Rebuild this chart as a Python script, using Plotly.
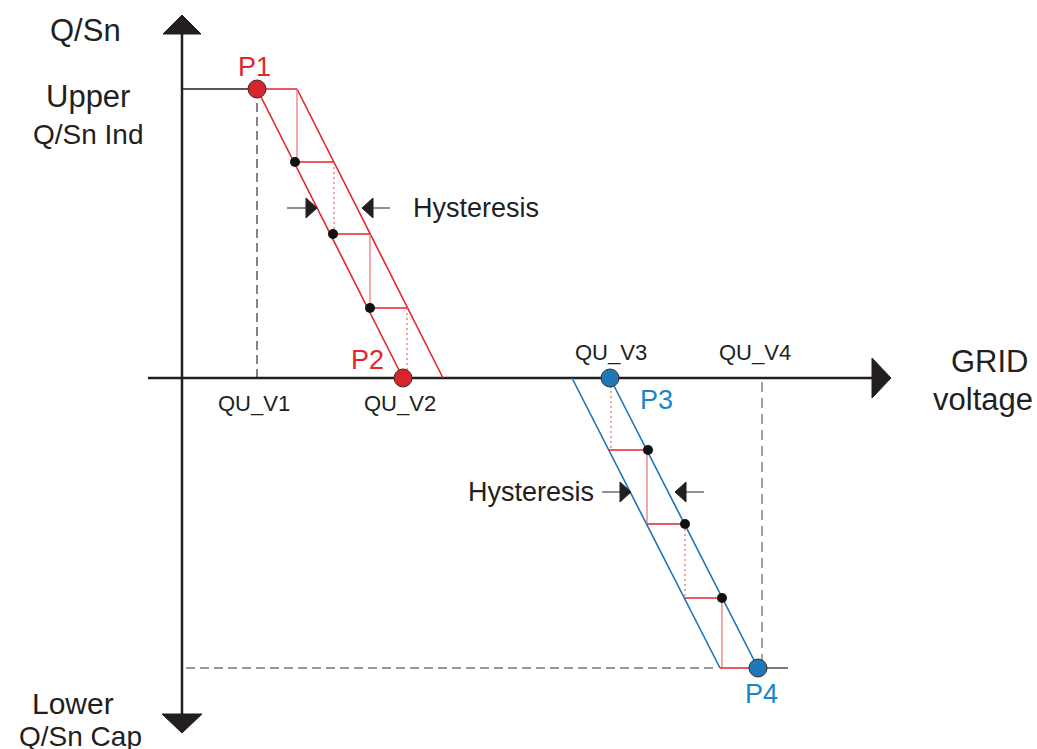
import plotly.graph_objects as go

# logical units: x = grid voltage offset, y = Q/Sn, origin where the two axes cross
qu_v = [75, 221, 428, 576]            # QU_V1 .. QU_V4
qu_names = ["QU_V1", "QU_V2", "QU_V3", "QU_V4"]
q_upper, q_lower = 289, -290          # Upper Q/Sn Ind / Lower Q/Sn Cap
hyst = 40                             # hysteresis width

p_names = ["P1", "P2", "P3", "P4"]
p_v = [75, 221, 428, 576]
p_q = [289, 0, 0, -290]

# intermediate points on the characteristic
dots_v = [113, 151, 188, 466, 503, 540]
dots_q = [216, 144, 70, -72, -146, -220]

# staircase segments (v0, q0, v1, q1)
steps_h = [(113, 216, 152, 216), (151, 144, 188, 144), (188, 70, 225, 70),
           (426, -72, 466, -72), (465, -146, 503, -146), (503, -220, 540, -220),
           (538, -290, 576, -290)]
steps_v_solid = [(115, 289, 115, 216), (188, 144, 188, 70),
                 (465, -72, 465, -146), (540, -220, 540, -290)]
steps_v_dot = [(152, 216, 152, 144), (225, 70, 225, 0),
               (429, -8, 429, -72), (503, -146, 503, -220)]

AX = "#231f20"
RED = "#e3262c"
RED_L = "#ec6f73"
BLUE = "#1b75bc"

fig = go.Figure()


def segs(lst):
    xs, ys = [], []
    for v0, q0, v1, q1 in lst:
        xs += [v0, v1, None]
        ys += [q0, q1, None]
    return xs, ys


def line(xs, ys, color, width, dash=None):
    fig.add_trace(go.Scatter(x=xs, y=ys, mode="lines", hoverinfo="skip",
                             line=dict(color=color, width=width, dash=dash)))


def tri(tx, ty, d, length, half, color):
    # filled arrow head with tip at (tx, ty), pointing in direction d
    if d == "up":
        xs, ys = [tx, tx - half, tx + half], [ty, ty - length, ty - length]
    elif d == "down":
        xs, ys = [tx, tx - half, tx + half], [ty, ty + length, ty + length]
    elif d == "right":
        xs, ys = [tx, tx - length, tx - length], [ty, ty - half, ty + half]
    else:
        xs, ys = [tx, tx + length, tx + length], [ty, ty - half, ty + half]
    fig.add_trace(go.Scatter(x=xs + [xs[0]], y=ys + [ys[0]], mode="lines", fill="toself",
                             fillcolor=color, line=dict(color=color, width=1), hoverinfo="skip"))


# guide lines
line([0, qu_v[0]], [q_upper, q_upper], AX, 1.5)
line([qu_v[0], qu_v[0]], [q_upper, 0], AX, 1.1, "9px,5px")
line([4, qu_v[3] - hyst], [q_lower, q_lower], "#333333", 1.1, "9px,5px")
line([qu_v[3], qu_v[3] + 30], [q_lower, q_lower], AX, 1.2)
line([qu_v[3] + 4, qu_v[3] + 4], [-4, q_lower], "#8a8a8a", 1.6, "10px,6px")

# axes
line([-34, 690], [0, 0], AX, 2.5)
line([0, 0], [-337, 345], AX, 2.5)
tri(0, 363, "up", 19, 19, AX)
tri(0, -355, "down", 19, 20, AX)
tri(709, 0, "right", 19, 20, AX)

# characteristic bands
line([qu_v[0], qu_v[1]], [q_upper, 0], RED, 1.6)
line([qu_v[0] + hyst, qu_v[1] + hyst], [q_upper, 0], RED, 1.6)
line([qu_v[0], qu_v[0] + hyst], [q_upper, q_upper], RED, 1.6)
line([qu_v[2], qu_v[3]], [0, q_lower], BLUE, 1.6)
line([qu_v[2] - 38, qu_v[3] - 38], [0, q_lower], BLUE, 1.6)

# staircase
line(*segs(steps_v_solid), RED_L, 1.2)
line(*segs(steps_v_dot), RED_L, 1.3, "2px,3px")
line(*segs(steps_h), RED, 1.6)

fig.add_trace(go.Scatter(x=dots_v, y=dots_q, mode="markers", hoverinfo="skip",
                         marker=dict(color="#111111", size=10)))
fig.add_trace(go.Scatter(x=p_v, y=p_q, mode="markers", hoverinfo="skip",
                         marker=dict(color=["#d7262b", "#d7262b", "#1f78b8", "#1f78b8"], size=18,
                                     line=dict(color="#3a2a2a", width=1))))

# hysteresis arrows
line([105, 128], [170, 170], "#555555", 1.3)
line([190, 208], [170, 170], "#555555", 1.3)
tri(135, 170, "right", 11, 10, AX)
tri(180, 170, "left", 11, 10, AX)
line([420, 438], [-114, -114], "#555555", 1.3)
line([503, 522], [-114, -114], "#555555", 1.3)
tri(449, -114, "right", 11, 10, AX)
tri(493, -114, "left", 11, 10, AX)

F = "Liberation Sans, Arial, sans-serif"


def txt(x, y, s, size, color="#231f20", xanchor="center"):
    fig.add_annotation(x=x, y=y, text=s, showarrow=False, xanchor=xanchor, yanchor="middle",
                       font=dict(family=F, size=size, color=color))


txt(-97, 348, "Q/Sn", 31)
txt(-94, 282, "Upper", 31)
txt(-94, 244, "Q/Sn Ind", 28)
txt(-109, -325, "Lower", 30)
txt(-102, -358, "Q/Sn Cap", 28)
txt(808, 17, "GRID", 31)
txt(801, -21, "voltage", 31)
for v, name, y in zip(qu_v, qu_names, [-25, -25, 26, 26]):
    txt(v - 3 + (4 if name == "QU_V3" else 0), y, name, 22)
txt(72, 311, "P1", 27, RED)
txt(185, 18, "P2", 27, RED)
txt(474, -22, "P3", 27, "#1a86c8")
txt(579, -316, "P4", 27, "#1a86c8")
txt(229, 170, "Hysteresis", 27, xanchor="left")
txt(414, -114, "Hysteresis", 27, xanchor="right")

fig.update_layout(
    width=1037, height=749, showlegend=False,
    margin=dict(l=0, r=0, t=0, b=0),
    paper_bgcolor="white", plot_bgcolor="white",
    xaxis=dict(range=[-182, 855], visible=False, fixedrange=True),
    yaxis=dict(range=[-371, 378], visible=False, fixedrange=True),
)

fig.write_html("out.html", config={"displayModeBar": False},
               post_script="document.body.style.margin='0';")
